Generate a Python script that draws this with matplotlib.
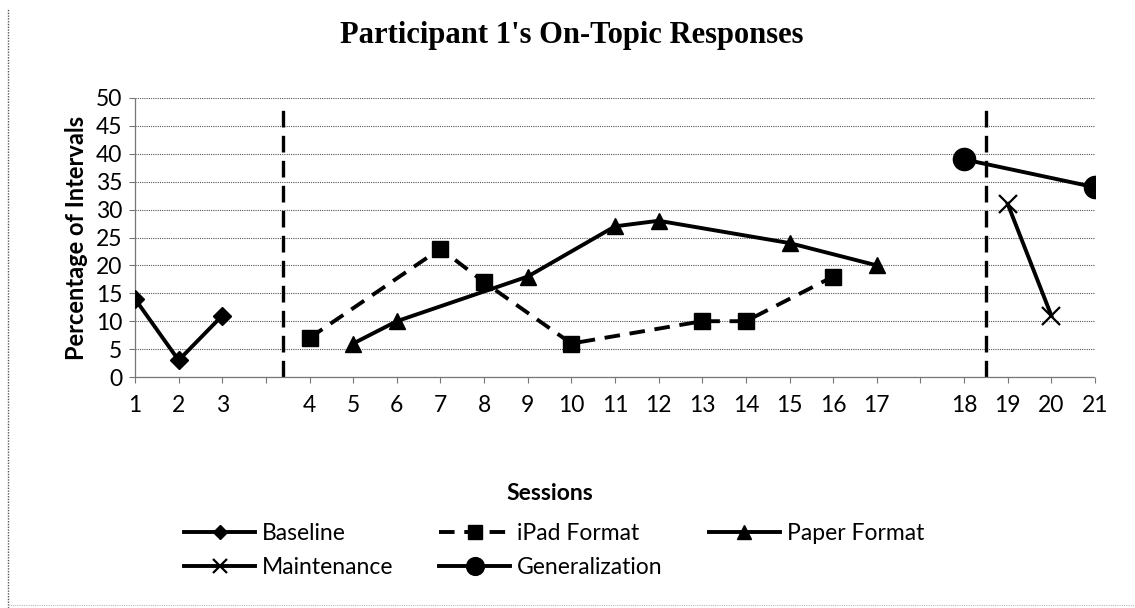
import numpy as np
import matplotlib.pyplot as plt
from matplotlib.lines import Line2D

# Category axis (blank slots separate the phases)
categories = ["1", "2", "3", "", "4", "5", "6", "7", "8", "9", "10", "11", "12",
              "13", "14", "15", "16", "17", "", "18", "19", "20", "21"]

baseline_sessions = ["1", "2", "3"]
baseline_values   = [14, 3, 11]

ipad_sessions = ["4", "7", "8", "10", "13", "14", "16"]
ipad_values   = [7, 23, 17, 6, 10, 10, 18]

paper_sessions = ["5", "6", "9", "11", "12", "15", "17"]
paper_values   = [6, 10, 18, 27, 28, 24, 20]

maint_sessions = ["19", "20"]
maint_values   = [31, 11]

gen_sessions = ["18", "21"]
gen_values   = [39, 34]

# phase change lines (category positions)
phase_lines = [3.4, 19.5]


def pos(sessions):
    return [categories.index(s) for s in sessions]


plt.rcParams["font.family"] = ["Lato", "DejaVu Sans"]

fig = plt.figure(figsize=(11.35, 6.08), dpi=100)
ax = fig.add_axes([135 / 1135, 1 - 377 / 608, (1095 - 135) / 1135, (377 - 98) / 608])

lw = 2.8
ax.plot(pos(baseline_sessions), baseline_values, color="black", lw=lw,
        marker="D", markersize=9, label="Baseline", zorder=3)
ax.plot(pos(ipad_sessions), ipad_values, color="black", lw=lw, linestyle=(0, (4, 2.5)),
        marker="s", markersize=12, label="iPad Format", zorder=3)
ax.plot(pos(paper_sessions), paper_values, color="black", lw=lw,
        marker="^", markersize=12, label="Paper Format", zorder=3)
ax.plot(pos(maint_sessions), maint_values, color="black", lw=lw,
        marker="x", markersize=13, markeredgewidth=1.6, label="Maintenance", zorder=3)
ax.plot(pos(gen_sessions), gen_values, color="black", lw=lw,
        marker="o", markersize=16, label="Generalization", zorder=3)

for xv in phase_lines:
    ax.axvline(xv, ymin=0, ymax=0.985, color="black", lw=2.4,
               linestyle=(0, (5, 2.5)), zorder=2)

ax.set_xlim(0, len(categories) - 1)
ax.set_ylim(0, 50)
ax.set_yticks(np.arange(0, 51, 5))
ax.set_xticks(range(len(categories)))
ax.set_xticklabels(categories)
ax.tick_params(axis="both", labelsize=16.5, length=4, width=0.8, color="#777777")
ax.tick_params(axis="x", pad=9)
ax.tick_params(axis="y", pad=5)

ax.grid(axis="y", color="#555555", linestyle=(0, (1, 1)), linewidth=0.8)
for side in ["top", "right"]:
    ax.spines[side].set_visible(False)
for side in ["left", "bottom"]:
    ax.spines[side].set_color("#777777")
    ax.spines[side].set_linestyle((0, (1, 1)))
    ax.spines[side].set_linewidth(0.9)

ax.set_ylabel("Percentage of Intervals", fontsize=17, fontweight="bold", labelpad=6)

fig.text(572 / 1135, 1 - 35 / 608, "Participant 1's On-Topic Responses",
         family="Liberation Serif", fontsize=22, fontweight="bold", ha="center", va="center")
fig.text(550 / 1135, 1 - 493 / 608, "Sessions", fontsize=16.5, fontweight="bold",
         ha="center", va="center")

handles, labels = ax.get_legend_handles_labels()
order = [0, 3, 1, 4, 2]
leg = fig.legend([handles[i] for i in order], [labels[i] for i in order],
                 ncol=3, loc="upper left", bbox_to_anchor=(184 / 1135, 1 - 523 / 608),
                 frameon=False, fontsize=16.5, handlelength=3.1, handletextpad=0.3,
                 columnspacing=2.0, labelspacing=0.55, borderaxespad=0, borderpad=0,
                 markerscale=0.8)

# frame line on the left and faint bottom line
fig.add_artist(Line2D([8 / 1135, 8 / 1135], [0, 1 - 8 / 608], color="#555555",
                      lw=1.0, linestyle=(0, (1, 1))))
fig.add_artist(Line2D([8 / 1135, 1], [1 - 605 / 608] * 2, color="#bbbbbb",
                      lw=0.8, linestyle=(0, (1, 1))))

fig.savefig("out.png", dpi=100)
